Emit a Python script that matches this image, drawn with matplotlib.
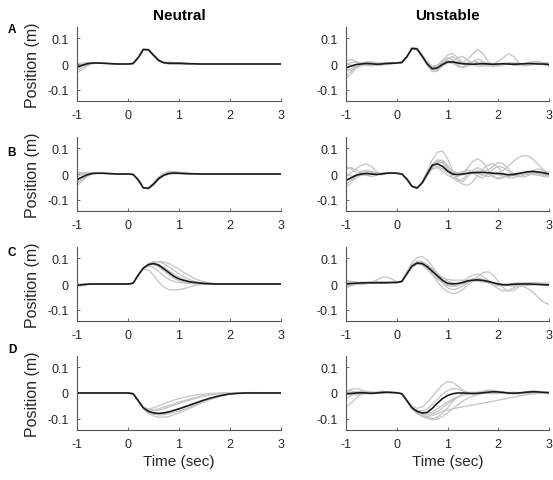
import matplotlib
matplotlib.use("Agg")
import matplotlib.pyplot as plt
import numpy as np

plt.rcParams['font.family'] = ['Liberation Sans', 'DejaVu Sans']

# time grid (sec)
T = [-1.0, -0.9, -0.8, -0.7, -0.6, -0.5, -0.4, -0.3, -0.2, -0.1,
     0.0, 0.1, 0.2, 0.3, 0.4, 0.5, 0.6, 0.7, 0.8, 0.9,
     1.0, 1.1, 1.2, 1.3, 1.4, 1.5, 1.6, 1.7, 1.8, 1.9,
     2.0, 2.1, 2.2, 2.3, 2.4, 2.5, 2.6, 2.7, 2.8, 2.9, 3.0]

# positions in mm (converted to m when plotting)

# ---- Row A, Neutral ----
mean_an = [-12, -5, 1, 4, 4, 3, 2, 1, 0, 0, 0, 2, 25, 57, 56, 35, 14, 5, 3, 3,
           3, 2, 1, 1, 0, 0, 0, 0, 0, 0, 0, 0, 0, 0, 0, 0, 0, 0, 0, 0, 0]
an1 = [-35, -22, -8, 1, 3, 3, 2, 1, 0, 0, 0, 2, 23, 56, 56, 36, 15, 4, 0, -2,
       -2, -2, -1, -1, 0, 0, 0, 0, 0, 0, 0, 0, 0, 0, 0, 0, 0, 0, 0, 0, 0]
an2 = [-25, -14, -3, 3, 4, 3, 2, 1, 0, 0, 0, 2, 26, 58, 55, 33, 13, 5, 4, 4,
       3, 2, 1, 0, 0, 0, 0, 0, 0, 0, 0, 0, 0, 0, 0, 0, 0, 0, 0, 0, 0]
an3 = [2, 4, 5, 5, 4, 3, 2, 1, 0, 0, 0, 2, 24, 56, 57, 37, 17, 8, 7, 6,
       5, 3, 2, 1, 1, 0, 0, 0, 0, 0, 0, 0, 0, 0, 0, 0, 0, 0, 0, 0, 0]
an4 = [-8, -2, 2, 4, 4, 3, 2, 1, 0, 0, 0, 1, 22, 55, 56, 35, 14, 3, 1, 1,
       1, 1, 0, 0, 0, 0, 0, 0, 0, 0, 0, 0, 0, 0, 0, 0, 0, 0, 0, 0, 0]
an5 = [-18, -8, 0, 3, 4, 3, 2, 1, 0, 0, 0, 2, 25, 57, 54, 31, 12, 4, 3, 4,
       4, 3, 2, 1, 0, 0, 0, 0, 0, 0, 0, 0, 0, 0, 0, 0, 0, 0, 0, 0, 0]

# ---- Row A, Unstable ----
mean_au = [-15, -8, -2, 0, 2, 1, -1, 0, 2, 3, 4, 6, 29, 61, 59, 31, 0, -19, -15, -2,
           8, 8, 4, 1, 0, -1, 0, 1, 0, -1, 0, 1, 0, -1, 0, 1, 2, 1, 0, 0, -2]
au1 = [-45, -30, -10, 5, 8, 3, -5, -4, 2, 5, 5, 8, 30, 63, 60, 28, -5, -30, -28, -5,
       20, 30, 15, 0, -5, 0, 5, 3, 0, -5, -3, 2, 5, 3, 0, -2, 0, 3, 5, 2, -3]
au2 = [-5, 5, 8, 2, -5, -8, -2, 4, 6, 3, 2, 5, 27, 62, 60, 35, 8, -12, -8, 10,
       25, 15, -5, -15, -8, 10, 20, 10, -5, -10, -5, 0, 3, 0, -3, 0, 5, 8, 5, 0, -5]
au3 = [15, 18, 10, 0, -5, 0, 5, 3, 0, 2, 4, 7, 28, 65, 62, 33, 3, -22, -25, -10,
       5, 12, 10, 5, 20, 40, 58, 40, 10, -5, -8, -3, 2, 3, 0, -3, 0, 2, 0, -4, -8]
au4 = [-30, -20, -5, 5, 5, 0, -5, -3, 3, 5, 5, 6, 26, 58, 57, 32, 5, -15, -10, 5,
       15, 5, -10, -12, 0, 10, 5, -5, -8, 0, 10, 25, 40, 30, 5, -8, -5, 0, 3, 5, 2]
au5 = [-55, -40, -15, 0, 8, 10, 5, 0, -2, 2, 3, 6, 29, 61, 56, 28, 0, -15, -5, 15,
       35, 42, 25, 5, -5, -3, 5, 8, 3, -2, -3, 0, 2, 0, -2, -2, 0, 2, 3, 0, -3]
au6 = [5, -5, -12, -8, 0, 5, 3, 0, -3, 0, 4, 6, 27, 60, 61, 36, 10, -8, -5, 3,
       5, 2, 0, 0, 5, 10, 8, 2, -3, -5, 0, 3, 0, -5, -6, 0, 5, 10, 10, 5, -2]
au7 = [-20, -25, -15, -3, 3, 2, -2, 0, 4, 4, 4, 5, 26, 60, 58, 30, 2, -20, -22, -8,
       5, 10, 25, 30, 15, 0, -10, -8, 0, 3, 0, -3, 0, 4, 2, -2, -4, -2, 2, 5, 3]

# ---- Row B, Neutral ----
mean_bn = [-22, -12, -3, 2, 3, 3, 2, 1, 0, 0, 0, -2, -23, -54, -56, -40, -18, -5, 2, 4,
           3, 2, 1, 1, 0, 0, 0, 0, 0, 0, 0, 0, 0, 0, 0, 0, 0, 0, 0, 0, 0]
bn1 = [-45, -28, -10, 0, 3, 3, 2, 1, 0, 0, 0, -2, -20, -54, -57, -42, -20, -6, 1, 2,
       2, 1, 1, 0, 0, 0, 0, 0, 0, 0, 0, 0, 0, 0, 0, 0, 0, 0, 0, 0, 0]
bn2 = [5, 6, 5, 4, 3, 3, 2, 1, 0, 0, 0, -2, -23, -55, -55, -36, -14, 0, 8, 8,
       6, 4, 2, 1, 0, 0, 0, 0, 0, 0, 0, 0, 0, 0, 0, 0, 0, 0, 0, 0, 0]
bn3 = [-30, -18, -6, 1, 3, 3, 2, 1, 0, 0, 0, -1, -21, -53, -58, -44, -22, -8, -1, 1,
       1, 1, 0, 0, 0, 0, 0, 0, 0, 0, 0, 0, 0, 0, 0, 0, 0, 0, 0, 0, 0]
bn4 = [-10, -3, 1, 3, 3, 3, 2, 1, 0, 0, 0, -2, -24, -56, -54, -35, -12, 2, 10, 10,
       7, 4, 2, 1, 0, 0, 0, 0, 0, 0, 0, 0, 0, 0, 0, 0, 0, 0, 0, 0, 0]
bn5 = [-38, -22, -5, 2, 4, 3, 2, 1, 0, 0, 0, -2, -22, -55, -56, -38, -16, -3, 4, 5,
       4, 3, 1, 0, 0, 0, 0, 0, 0, 0, 0, 0, 0, 0, 0, 0, 0, 0, 0, 0, 0]
bn6 = [0, 2, 3, 3, 3, 3, 2, 1, 0, 0, 0, -1, -20, -52, -58, -42, -20, -6, 2, 3,
       3, 2, 1, 0, 0, 0, 0, 0, 0, 0, 0, 0, 0, 0, 0, 0, 0, 0, 0, 0, 0]

# ---- Row B, Unstable ----
mean_bu = [-25, -15, -5, 0, 2, 0, -2, 0, 3, 4, 3, 0, -20, -48, -55, -35, 0, 34, 40, 30,
           12, 0, -2, 0, 3, 5, 6, 6, 5, 3, 2, 0, -3, -2, 2, 6, 9, 10, 7, 4, 0]
bu1 = [-50, -35, -10, 5, 12, 8, 0, -3, 3, 5, 3, -1, -22, -50, -56, -32, 10, 55, 85, 90,
       60, 15, -20, -30, -10, 15, 25, 15, 0, -10, -15, -10, -5, 0, 3, 2, 0, -3, -5, -3, 0]
bu2 = [20, 25, 15, 5, -5, -10, -5, 3, 5, 3, 3, 0, -18, -46, -53, -36, -5, 25, 45, 45,
       25, 0, -25, -40, -45, -30, -5, 20, 35, 40, 25, 0, -15, -15, -5, 5, 10, 5, -5, -10, -12]
bu3 = [-10, 5, 20, 35, 40, 30, 10, 0, 2, 4, 3, -1, -20, -48, -56, -38, -5, 28, 50, 55,
       35, 5, -10, 0, 25, 50, 60, 45, 15, -10, -20, -15, -5, 0, 2, 0, -3, 0, 5, 8, 5]
bu4 = [0, -8, -10, -5, 0, 5, 3, 0, 2, 4, 3, 0, -19, -47, -54, -34, 2, 35, 55, 45,
       15, -15, -30, -20, 0, 10, 5, -5, -10, -5, 5, 15, 30, 50, 65, 72, 70, 55, 35, 15, 0]
bu5 = [-40, -25, -5, 10, 15, 10, 2, 0, 3, 4, 3, -1, -21, -49, -55, -36, -2, 20, 25, 10,
       -5, -15, -10, 5, 15, 5, -10, -15, 0, 20, 30, 25, 10, -5, -10, -5, 5, 15, 20, 15, 5]
bu6 = [30, 20, 5, -3, -5, -3, 0, 2, 4, 4, 3, 0, -20, -48, -56, -37, -5, 20, 30, 20,
       5, -5, -8, -3, 5, 10, 12, 10, 15, 30, 45, 40, 20, 0, -10, -12, -5, 5, 10, 8, 0]
bu7 = [-20, -25, -15, -3, 5, 8, 5, 2, 3, 4, 3, 0, -20, -49, -55, -33, 5, 38, 55, 50,
       30, 10, 5, 10, 15, 10, 0, -5, -3, 0, -3, -8, -10, -5, 0, 3, 5, 3, -2, -5, -6]

# ---- Row C, Neutral ----
mean_cn = [-5, -3, -1, 0, 0, 0, 0, 0, 0, 0, 0, 3, 35, 62, 76, 80, 74, 60, 45, 30,
           20, 14, 9, 6, 4, 2, 1, 0, 0, 0, 0, 0, 0, 0, 0, 0, 0, 0, 0, 0, 0]
cn1 = [-8, -5, -2, 0, 0, 0, 0, 0, 0, 0, 0, 3, 36, 58, 55, 35, 8, -12, -22, -24,
       -22, -18, -12, -6, -3, -1, 0, 0, 0, 0, 0, 0, 0, 0, 0, 0, 0, 0, 0, 0, 0]
cn2 = [-3, -2, -1, 0, 0, 0, 0, 0, 0, 0, 0, 3, 34, 62, 78, 86, 88, 86, 80, 70,
       58, 45, 33, 22, 14, 8, 4, 2, 1, 0, 0, 0, 0, 0, 0, 0, 0, 0, 0, 0, 0]
cn3 = [-10, -6, -2, 0, 0, 0, 0, 0, 0, 0, 0, 3, 35, 62, 77, 82, 78, 66, 52, 38,
       27, 18, 11, 6, 3, 1, 0, 0, 0, 0, 0, 0, 0, 0, 0, 0, 0, 0, 0, 0, 0]
cn4 = [0, 0, 0, 0, 0, 0, 0, 0, 0, 0, 0, 3, 35, 61, 74, 76, 68, 52, 36, 22,
       13, 8, 5, 3, 2, 1, 0, 0, 0, 0, 0, 0, 0, 0, 0, 0, 0, 0, 0, 0, 0]
cn5 = [-6, -4, -1, 0, 0, 0, 0, 0, 0, 0, 0, 3, 35, 63, 79, 88, 87, 80, 68, 54,
       40, 28, 18, 11, 6, 3, 1, 0, 0, 0, 0, 0, 0, 0, 0, 0, 0, 0, 0, 0, 0]
cn6 = [-4, -2, -1, 0, 0, 0, 0, 0, 0, 0, 0, 3, 34, 60, 70, 65, 50, 32, 18, 10,
       6, 4, 2, 1, 0, 0, 0, 0, 0, 0, 0, 0, 0, 0, 0, 0, 0, 0, 0, 0, 0]

# ---- Row C, Unstable ----
mean_cu = [0, 2, 3, 4, 5, 5, 5, 5, 5, 6, 6, 10, 40, 70, 82, 80, 68, 50, 32, 15,
           3, 0, 2, 6, 12, 15, 16, 14, 10, 5, 0, -3, -3, -1, 0, 0, 0, -1, -2, -3, -4]
cu1 = [5, 10, 8, 5, 3, 5, 8, 6, 5, 6, 6, 10, 42, 75, 90, 88, 75, 55, 30, 10,
       -5, -10, -5, 5, 15, 20, 20, 15, 10, 5, 0, -2, -3, -3, -5, -10, -20, -35, -55, -72, -80]
cu2 = [-15, -8, 0, 5, 5, 3, 5, 8, 8, 6, 6, 12, 48, 85, 103, 108, 95, 70, 40, 15,
       -2, -10, -5, 10, 25, 35, 38, 30, 15, 0, -8, -5, 0, 3, 3, 0, -2, -2, 0, 2, 3]
cu3 = [15, 10, 5, 3, 5, 8, 15, 25, 28, 20, 8, 10, 40, 72, 82, 75, 58, 35, 10, -15,
       -30, -38, -35, -22, -5, 10, 15, 12, 5, 0, -5, -8, -5, 0, 3, 5, 5, 3, 0, -2, -3]
cu4 = [-5, 0, 5, 8, 6, 4, 3, 3, 4, 5, 6, 9, 38, 68, 80, 82, 75, 60, 42, 25,
       12, 5, 0, 0, 5, 15, 30, 45, 48, 35, 10, -15, -28, -25, -12, 0, 5, 5, 3, 0, -2]
cu5 = [5, 3, 0, -3, 0, 5, 8, 6, 5, 6, 6, 11, 42, 72, 84, 80, 62, 40, 20, 5,
       -5, -8, -5, 3, 12, 18, 22, 18, 8, -5, -18, -28, -25, -15, -5, 0, 3, 5, 5, 3, 0]
cu6 = [-8, -5, -2, 2, 5, 6, 5, 4, 5, 6, 6, 10, 38, 66, 78, 74, 62, 48, 36, 25,
       18, 15, 15, 15, 14, 12, 10, 8, 5, 3, 2, 0, -2, -3, -2, 0, 2, 3, 2, 0, -2]
cu7 = [10, 8, 5, 3, 3, 4, 5, 5, 5, 6, 6, 10, 40, 70, 85, 85, 72, 52, 28, 5,
       -15, -22, -18, -8, 5, 15, 20, 18, 12, 5, 0, -3, -5, -8, -10, -8, -5, -2, 0, 2, 3]

# ---- Row D, Neutral ----
mean_dn = [0, 0, 0, 0, 0, 0, 0, 0, 0, 0, 0, -3, -30, -58, -72, -78, -80, -78, -74, -68,
           -62, -55, -48, -41, -34, -27, -21, -16, -11, -7, -4, -2, -1, 0, 0, 0, 0, 0, 0, 0, 0]
dn1 = [0, 0, 0, 0, 0, 0, 0, 0, 0, 0, 0, -3, -30, -55, -62, -58, -50, -42, -35, -28,
       -22, -17, -13, -9, -6, -4, -2, -1, 0, 0, 0, 0, 0, 0, 0, 0, 0, 0, 0, 0, 0]
dn2 = [0, 0, 0, 0, 0, 0, 0, 0, 0, 0, 0, -3, -32, -62, -80, -90, -95, -95, -92, -86,
       -78, -70, -61, -52, -43, -34, -26, -19, -13, -8, -4, -2, -1, 0, 0, 0, 0, 0, 0, 0, 0]
dn3 = [0, 0, 0, 0, 0, 0, 0, 0, 0, 0, 0, -3, -31, -60, -75, -83, -86, -85, -82, -77,
       -71, -64, -56, -48, -40, -32, -25, -18, -12, -7, -3, -1, 0, 0, 0, 0, 0, 0, 0, 0, 0]
dn4 = [0, 0, 0, 0, 0, 0, 0, 0, 0, 0, 0, -3, -30, -57, -68, -70, -68, -62, -55, -48,
       -41, -34, -28, -22, -17, -12, -8, -5, -3, -1, 0, 0, 0, 0, 0, 0, 0, 0, 0, 0, 0]
dn5 = [0, 0, 0, 0, 0, 0, 0, 0, 0, 0, 0, -3, -31, -59, -74, -80, -82, -80, -76, -70,
       -64, -57, -50, -43, -36, -29, -22, -16, -10, -6, -3, -1, 0, 1, 2, 2, 1, 0, 0, 0, 0]
dn6 = [0, 0, 0, 0, 0, 0, 0, 0, 0, 0, 0, -3, -29, -56, -66, -66, -62, -56, -49, -42,
       -36, -30, -24, -19, -14, -10, -7, -4, -2, -1, 0, 0, 0, 0, 0, 0, 0, 0, 0, 0, 0]

# ---- Row D, Unstable ----
mean_du = [-3, -2, 0, 1, 0, -1, 0, 2, 3, 2, 1, -3, -30, -58, -72, -78, -76, -60, -40, -22,
           -10, -3, 0, 0, -1, -2, -1, 1, 3, 5, 4, 2, 0, -1, 0, 2, 4, 5, 4, 2, 1]
du1 = [-55, -40, -20, -5, 3, 5, 2, 0, 2, 2, 1, -3, -28, -52, -60, -55, -38, -15, 10, 32,
       45, 42, 28, 12, 2, -3, -2, 2, 6, 8, 6, 3, 0, -2, 0, 3, 6, 8, 6, 3, 0]
du2 = [5, 15, 18, 12, 5, 0, 3, 8, 5, 2, 1, -3, -32, -62, -80, -90, -92, -88, -80, -72,
       -66, -62, -58, -54, -50, -47, -43, -40, -36, -32, -28, -24, -20, -16, -12, -9, -6, -3, -1, 0, 2]
du3 = [0, -5, -8, -5, 0, 2, 0, -2, 0, 2, 1, -3, -30, -60, -78, -88, -95, -100, -95, -80,
       -58, -35, -15, -3, 2, 3, 2, 0, -2, -3, -2, 0, 2, 3, 2, 0, -2, -3, 0, 3, 5]
du4 = [-20, -10, 0, 5, 3, 0, -2, 0, 3, 2, 1, -3, -29, -56, -68, -70, -62, -45, -25, -5,
       10, 18, 15, 8, 2, 0, 3, 8, 12, 10, 5, 0, -3, -3, 0, 3, 6, 7, 5, 3, 2]
du5 = [10, 8, 3, -2, -3, 0, 3, 5, 4, 2, 1, -3, -31, -60, -76, -84, -86, -82, -72, -58,
       -42, -28, -16, -7, -2, 0, 0, 2, 5, 8, 6, 3, 1, 0, -1, 0, 2, 4, 5, 3, 1]
du6 = [-8, 0, 5, 3, -2, -4, -2, 1, 3, 2, 1, -3, -30, -59, -74, -80, -80, -74, -62, -48,
       -35, -24, -15, -9, -5, -3, -2, -1, 0, 2, 3, 3, 2, 0, -2, -2, 0, 3, 6, 5, 3]
du7 = [0, 3, 5, 6, 4, 2, 0, 0, 2, 2, 1, -3, -31, -61, -80, -92, -100, -105, -102, -92,
       -78, -62, -46, -32, -20, -12, -6, -2, 0, 2, 3, 2, 0, -2, -3, -2, 0, 3, 5, 4, 2]

panels = [
    [(mean_an, [an1, an2, an3, an4, an5]), (mean_au, [au1, au2, au3, au4, au5, au6, au7])],
    [(mean_bn, [bn1, bn2, bn3, bn4, bn5, bn6]), (mean_bu, [bu1, bu2, bu3, bu4, bu5, bu6, bu7])],
    [(mean_cn, [cn1, cn2, cn3, cn4, cn5, cn6]), (mean_cu, [cu1, cu2, cu3, cu4, cu5, cu6, cu7])],
    [(mean_dn, [dn1, dn2, dn3, dn4, dn5, dn6]), (mean_du, [du1, du2, du3, du4, du5, du6, du7])],
]
row_letters = ['A', 'B', 'C', 'D']
col_titles = ['Neutral', 'Unstable']
x_ticks = [-1, 0, 1, 2, 3]
y_ticks = [-0.1, 0, 0.1]
y_ticklabels = ['-0.1', '0', '0.1']

W, H = 553, 481
fig = plt.figure(figsize=(W / 100, H / 100), dpi=100)

col_left = [77, 346]
col_width = [204, 203]
row_top = [28, 138, 248, 357]
row_h = 74
letter_y = [30, 153, 253, 350]

t = np.array(T)
axcol = '#555555'
for r in range(4):
    for c in range(2):
        ax = fig.add_axes([col_left[c] / W, 1 - (row_top[r] + row_h) / H,
                           col_width[c] / W, row_h / H])
        mean, grays = panels[r][c]
        for g in grays:
            ax.plot(t, np.array(g) / 1000.0, color='#c4c4c4', lw=0.9)
        ax.plot(t, np.array(mean) / 1000.0, color='#1a1a1a', lw=1.2)
        ax.set_xlim(-1, 3)
        ax.set_ylim(-0.145, 0.145)
        ax.set_xticks(x_ticks)
        ax.set_xticklabels([str(v) for v in x_ticks])
        ax.set_yticks(y_ticks)
        ax.set_yticklabels(y_ticklabels)
        for s in ['top', 'right']:
            ax.spines[s].set_visible(False)
        for s in ['left', 'bottom']:
            ax.spines[s].set_color(axcol)
            ax.spines[s].set_linewidth(0.8)
        ax.tick_params(direction='in', length=2.5, width=0.6, color=axcol,
                       labelsize=9, labelcolor='#262626', pad=6)
        if c == 0:
            ax.set_ylabel('Position (m)', fontsize=11.5, color='#262626', labelpad=5)
        if r == 0:
            ax.set_title(col_titles[c], fontsize=11, fontweight='bold', pad=6)
        if r == 3:
            ax.set_xlabel('Time (sec)', fontsize=11, color='#262626', labelpad=3)
    fig.text(12 / W, 1 - letter_y[r] / H, row_letters[r], fontsize=8.5,
             fontweight='bold', ha='center', va='center')

fig.savefig('out.png', dpi=100)
